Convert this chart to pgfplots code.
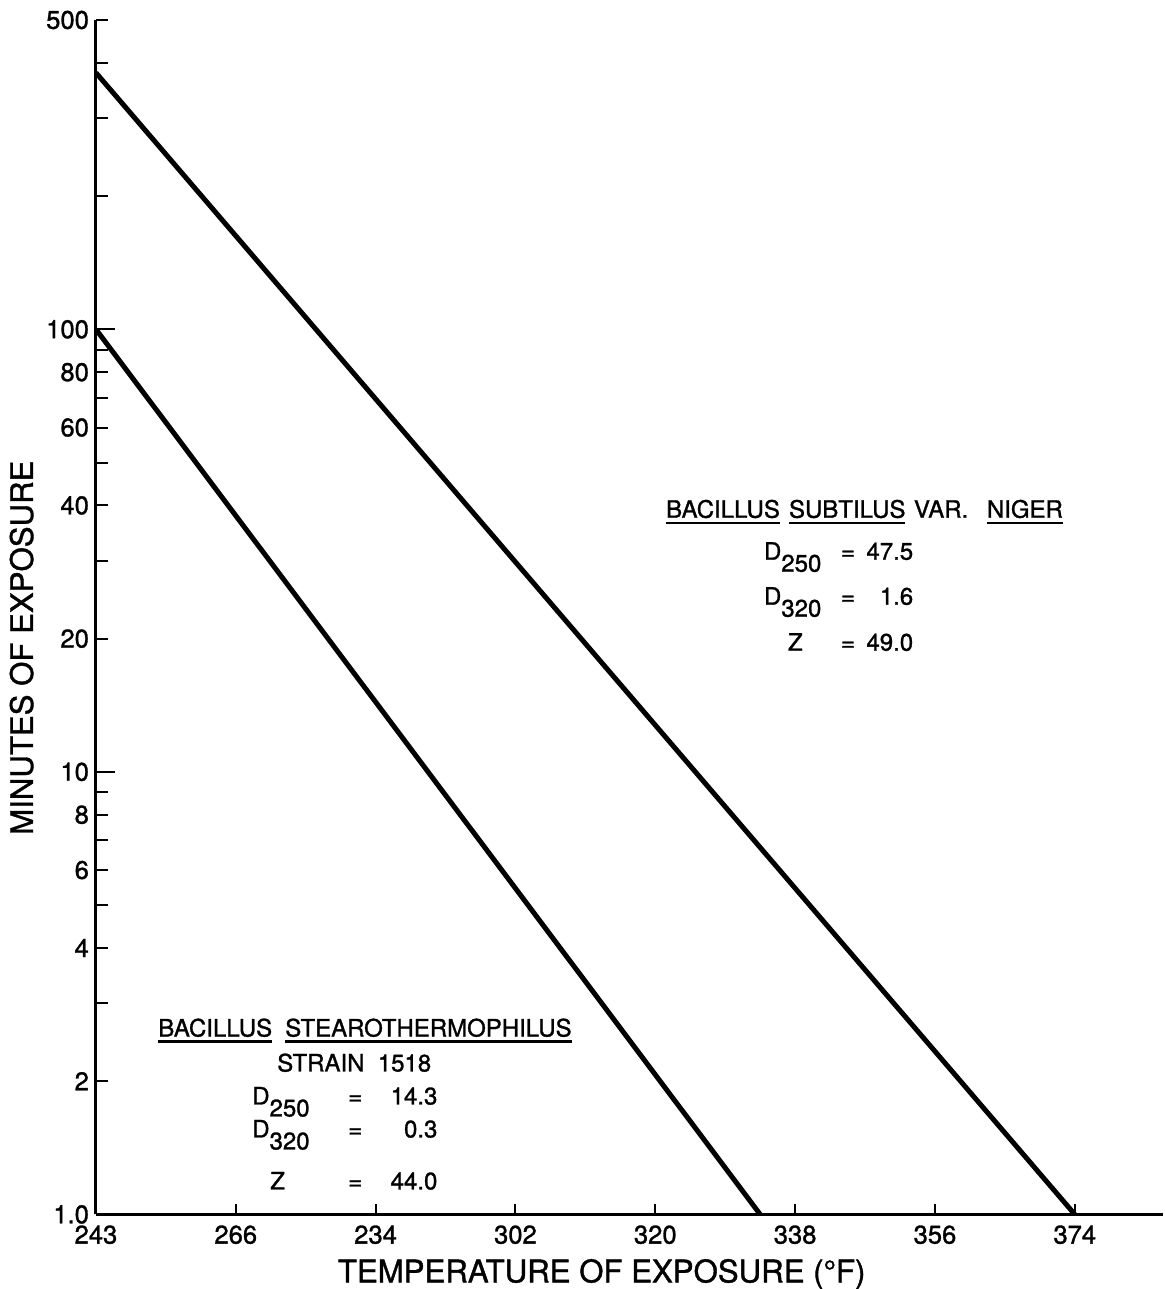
\documentclass[border=0pt]{standalone}
\usepackage{fontspec}
\setmainfont{TeX Gyre Heros}[FakeBold=1.2]
\usepackage{pgfplots}
\pgfplotsset{compat=1.18}
\newcommand{\ul}[1]{\leavevmode\setbox0\hbox{#1}\rlap{\raisebox{-3pt}{\rule{\wd0}{1.1pt}}}\box0}
\newcommand{\af}{\fontsize{12}{14}\selectfont}
\begin{document}
\begin{tikzpicture}
\begin{axis}[
  scale only axis, width=534pt, height=597.5pt,
  xmin=0, xmax=7.634, ymin=1, ymax=500, ymode=log,
  axis x line=bottom, axis y line=left,
  axis line style={-, line width=1.5pt},
  tick align=inside,
  xtick={0,1,2,3,4,5,6,7},
  xticklabels={243,266,234,302,320,338,356,374},
  ytick={2,4,6,8,20,40,60,80,500},
  yticklabels={2,4,6,8,20,40,60,80,500},
  minor ytick={3,5,7,9,30,50,70,90,200,300,400},
  extra y ticks={1,10,100},
  extra y tick labels={1.0,10,100},
  extra y tick style={/pgfplots/major tick length=9.5pt},
  major tick length=6pt, minor tick length=6pt,
  x tick style={/pgfplots/major tick length=5pt},
  tick style={black, line width=1pt},
  tick label style={font=\fontsize{12.8}{14}\selectfont},
  xticklabel style={yshift=-2pt},
  /pgf/number format/assume math mode=true,
  clip=false,
]
\addplot[black, line width=2.5pt, no marks] coordinates {(0,380) (7,1)};
\addplot[black, line width=2.5pt, no marks] coordinates {(0,100) (4.75,1)};
\end{axis}
\begin{scope}[shift={(-48pt,607.5pt)}, x=0.5pt, y=-0.5pt]
\path (0,0) rectangle (1164,1289);
\node[rotate=90, anchor=base, inner sep=0pt, font=\fontsize{15.6}{18}\selectfont] at (33,648) {MINUTES OF EXPOSURE};
\node[anchor=base, inner sep=0pt, font=\fontsize{15.6}{18}\selectfont] at (602,1283) {TEMPERATURE OF EXPOSURE (°F)};
% upper annotation
\begin{scope}[every node/.style={inner sep=0pt, font=\af}]
\node[anchor=base west] at (666,518) {\ul{BACILLUS}};
\node[anchor=base west] at (789,518) {\ul{SUBTILUS}};
\node[anchor=base west] at (914,518) {VAR.};
\node[anchor=base west] at (987,518) {\ul{NIGER}};
\node[anchor=base west] at (764,560) {D\raisebox{-6pt}{250}};
\node[anchor=base west] at (841,560) {=};
\node[anchor=base east] at (914,560) {47.5};
\node[anchor=base west] at (764,605) {D\raisebox{-6pt}{320}};
\node[anchor=base west] at (841,605) {=};
\node[anchor=base east] at (914,605) {1.6};
\node[anchor=base west] at (788,651) {Z};
\node[anchor=base west] at (841,651) {=};
\node[anchor=base east] at (914,651) {49.0};
% lower annotation
\node[anchor=base west] at (158,1037) {\ul{BACILLUS}};
\node[anchor=base west] at (285,1037) {\ul{STEAROTHERMOPHILUS}};
\node[anchor=base west] at (277,1072) {STRAIN\ \ 1518};
\node[anchor=base west] at (252,1105) {D\raisebox{-6pt}{250}};
\node[anchor=base west] at (348,1105) {=};
\node[anchor=base east] at (438,1105) {14.3};
\node[anchor=base west] at (252,1138) {D\raisebox{-6pt}{320}};
\node[anchor=base west] at (348,1138) {=};
\node[anchor=base east] at (438,1138) {0.3};
\node[anchor=base west] at (270,1190) {Z};
\node[anchor=base west] at (348,1190) {=};
\node[anchor=base east] at (438,1190) {44.0};
\end{scope}
\end{scope}
\end{tikzpicture}
\end{document}
